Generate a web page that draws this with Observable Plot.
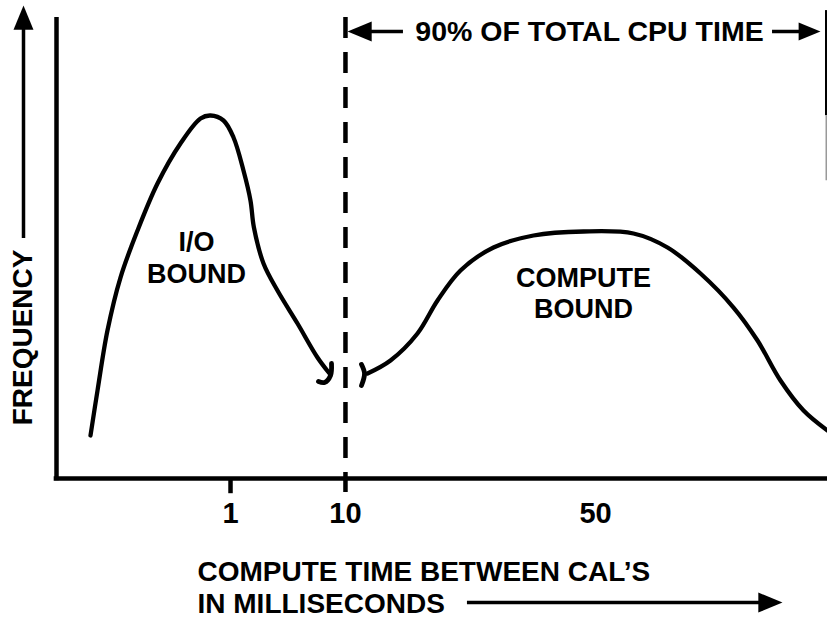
<!DOCTYPE html>
<html>
<head>
<meta charset="utf-8">
<script src="https://cdn.jsdelivr.net/npm/d3@7"></script>
<script src="https://cdn.jsdelivr.net/npm/@observablehq/plot@0.6"></script>
<style>
  body { margin: 0; background: #ffffff; }
  #chart svg { display: block; }
</style>
</head>
<body>
<div id="chart"></div>
<script>
// ---- data (schematic units: position along the time axis, relative frequency) ----
const ioBound = [
  [4.41, 9.33], [5.32, 19.09], [6.61, 32.10], [8.30, 43.60], [10.51, 53.80],
  [13.10, 63.99], [16.08, 72.67], [18.68, 78.09], [19.97, 78.74], [21.66, 77.66],
  [22.96, 73.97], [24.25, 66.81], [25.16, 60.30], [25.60, 54.50], [26.85, 46.64],
  [28.66, 40.78], [31.26, 33.62], [33.85, 26.25], [35.41, 22.78]
];
const ioBarb = [[35.67, 24.95], [35.54, 22.34], [34.76, 20.82], [33.98, 21.04]];
const computeBound = [
  [40.34, 22.78], [43.32, 25.60], [46.82, 31.45], [49.42, 38.61], [52.40, 45.12],
  [56.68, 50.11], [61.87, 52.71], [68.35, 53.58], [74.84, 53.15], [79.25, 50.11],
  [83.53, 44.47], [87.81, 37.09], [90.92, 29.93], [93.90, 21.26], [96.89, 14.75],
  [100.0, 10.41]
];
const computeHook = [[39.56, 24.73], [39.95, 22.78], [39.56, 20.17]];
const tickPositions = [22.57, 37.48, 69.91];
const tickLabels = ["1", "10", "50"];
const splitAt = 37.48;              // 10 ms boundary
const cpuShare = "90% OF TOTAL CPU TIME";
const regionLabels = ["I/O\nBOUND", "COMPUTE\nBOUND"];
const yTitle = "FREQUENCY";
const xTitle = "COMPUTE TIME BETWEEN CAL\u2019S\nIN MILLISECONDS";

// ---- styling helpers ----
const FONT = "'Liberation Sans', Arial, Helvetica, sans-serif";
const arrowHead = {
  draw(ctx, size) {
    const r = Math.sqrt(size / Math.PI);
    const L = 2.3 * r, W = 0.95 * r;
    ctx.moveTo(0, 0);
    ctx.lineTo(W, L);
    ctx.lineTo(-W, L);
    ctx.closePath();
  }
};
const pts = (arr) => arr.map(([x, y]) => ({x, y}));

const chart = Plot.plot({
  width: 827,
  height: 622,
  marginLeft: 56,
  marginRight: 0,
  marginTop: 17,
  marginBottom: 144,
  x: {domain: [0, 100], axis: null},
  y: {domain: [0, 100], axis: null},
  style: {fontFamily: FONT, background: "#ffffff", color: "#000", overflow: "visible"},
  marks: [
    // axes lines
    Plot.ruleX([0], {y1: -0.5, y2: 100, stroke: "#000", strokeWidth: 4.5}),
    Plot.ruleY([0], {x1: -0.3, x2: 100, stroke: "#000", strokeWidth: 4.5}),
    // tick mark at "1"
    Plot.ruleX([tickPositions[0]], {y1: 0, y2: -3.3, stroke: "#000", strokeWidth: 4.5}),
    // tick labels
    Plot.axisX({
      ticks: tickPositions,
      tickFormat: (d) => tickLabels[tickPositions.indexOf(d)],
      tickSize: 0,
      tickPadding: 24,
      label: null,
      fontSize: 29,
      fontWeight: "bold",
      fill: "#000"
    }),
    // dashed 10 ms boundary
    Plot.ruleX([splitAt], {y1: 100, y2: -3.04, stroke: "#000", strokeWidth: 4.5, strokeDasharray: "21,14"}),
    // curves
    Plot.line(pts(ioBound), {x: "x", y: "y", curve: "catmull-rom", stroke: "#000", strokeWidth: 4.3, strokeLinecap: "round"}),
    Plot.line(pts(ioBarb), {x: "x", y: "y", curve: "catmull-rom", stroke: "#000", strokeWidth: 4.8, strokeLinecap: "round"}),
    Plot.line(pts(computeBound), {x: "x", y: "y", curve: "catmull-rom", stroke: "#000", strokeWidth: 4.3, strokeLinecap: "round"}),
    Plot.line(pts(computeHook), {x: "x", y: "y", curve: "catmull-rom", stroke: "#000", strokeWidth: 4.8, strokeLinecap: "round"}),
    // region labels
    Plot.text([regionLabels[0]], {x: 18.16, y: 48.16, text: (d) => d, fontSize: 27, fontWeight: "bold", lineHeight: 1.18, fill: "#000"}),
    Plot.text([regionLabels[1]], {x: 68.35, y: 40.24, text: (d) => d, fontSize: 27, fontWeight: "bold", lineHeight: 1.15, fill: "#000"}),
    // 90% of CPU time annotation
    Plot.text([cpuShare], {x: 69.13, y: 96.96, text: (d) => d, fontSize: 28.5, fontWeight: "bold", fill: "#000"}),
    Plot.ruleY([96.96], {x1: 39.5, x2: 45.0, stroke: "#000", strokeWidth: 3.5}),
    Plot.ruleY([96.96], {x1: 92.87, x2: 97.5, stroke: "#000", strokeWidth: 3.5}),
    Plot.dot([0], {x: 37.75, y: 96.96, symbol: arrowHead, r: 10.5, rotate: -90, fill: "#000", stroke: "none"}),
    Plot.dot([0], {x: 99.09, y: 96.96, symbol: arrowHead, r: 9.5, rotate: 90, fill: "#000", stroke: "none"}),
    Plot.ruleX([99.87], {y1: 101.5, y2: 78.7, stroke: "#000", strokeWidth: 3}),
    Plot.ruleX([99.87], {y1: 78.7, y2: 64.6, stroke: "#999", strokeWidth: 2}),
    // y title with upward arrow
    Plot.text([yTitle], {x: -4.28, y: 30.59, text: (d) => d, rotate: -90, fontSize: 28, fontWeight: "bold", fill: "#000"}),
    Plot.ruleX([-4.28], {y1: 52.06, y2: 97.8, stroke: "#000", strokeWidth: 3.5}),
    Plot.dot([0], {x: -4.28, y: 102.6, symbol: arrowHead, r: 10.5, rotate: 0, fill: "#000", stroke: "none"}),
    // x title with rightward arrow
    Plot.text([xTitle], {x: 18.29, y: -23.5, text: (d) => d, textAnchor: "start", fontSize: 28, fontWeight: "bold", lineHeight: 1.12, fill: "#000"}),
    Plot.ruleY([-26.9], {x1: 53.3, x2: 91.5, stroke: "#000", strokeWidth: 3.5}),
    Plot.dot([0], {x: 94.16, y: -26.9, symbol: arrowHead, r: 10.5, rotate: 90, fill: "#000", stroke: "none"})
  ]
});
document.getElementById("chart").appendChild(chart);
</script>
</body>
</html>
